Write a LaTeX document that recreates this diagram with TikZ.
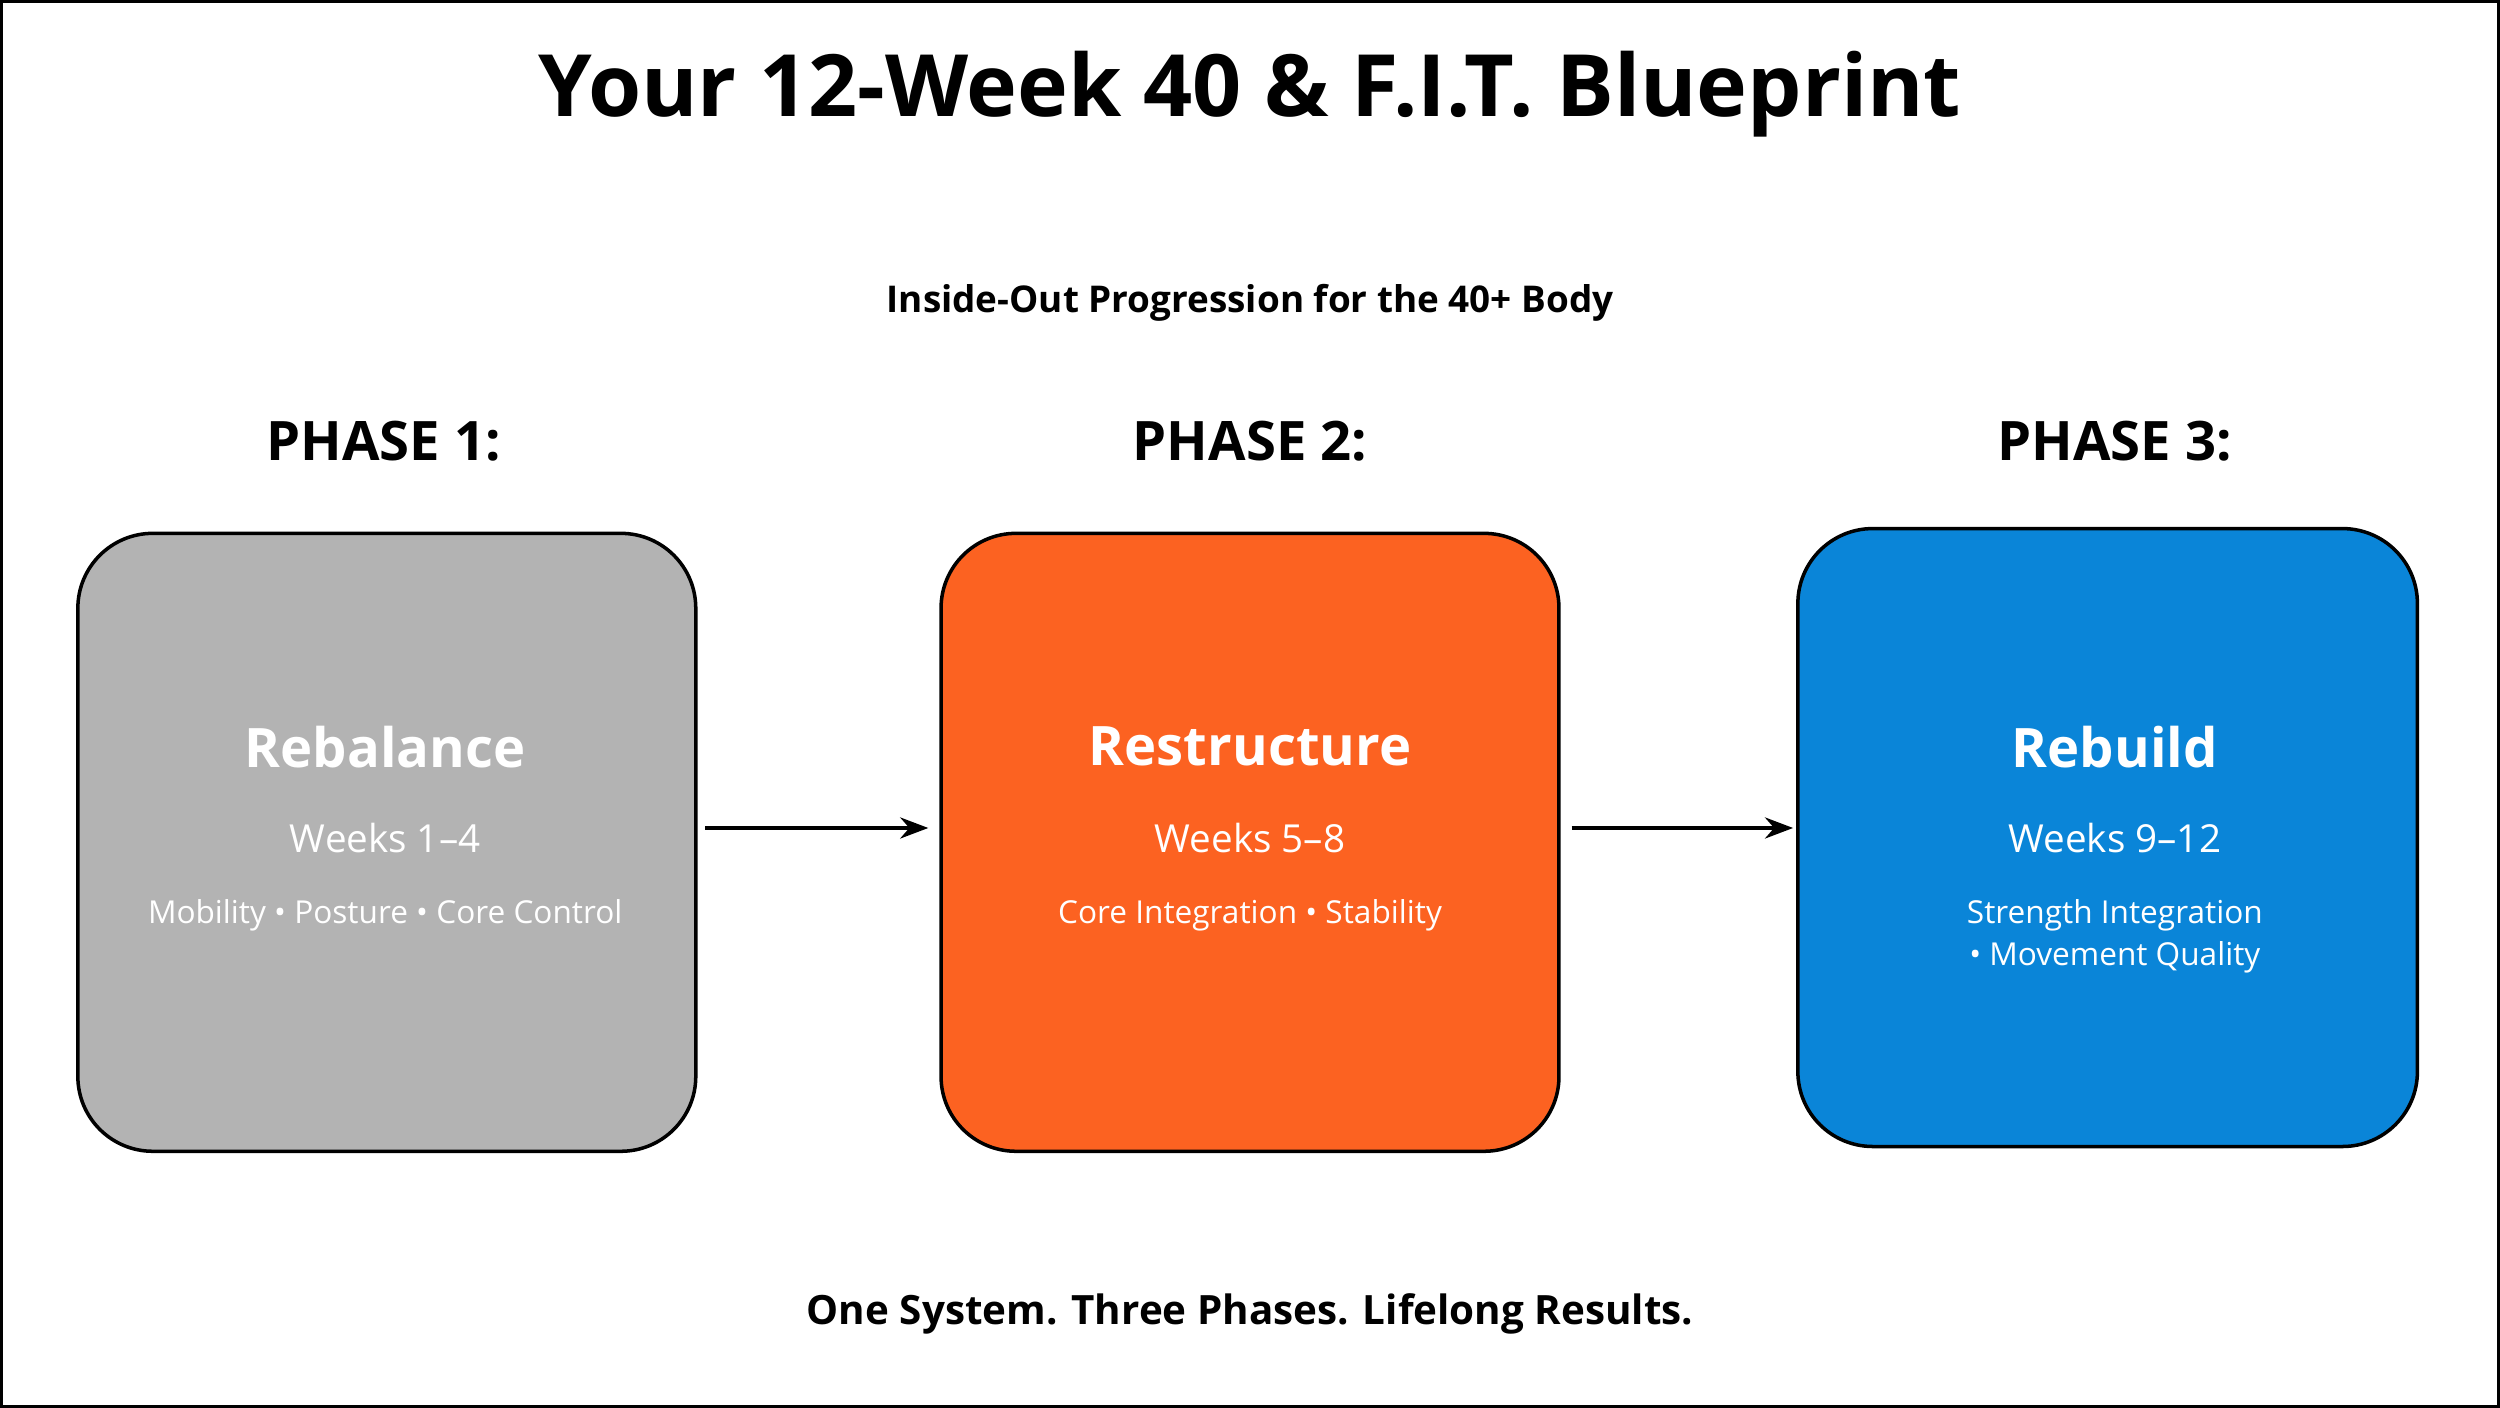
\documentclass[tikz,border=0pt]{standalone}
\usepackage{fontspec}
\setmainfont{Open Sans}
\usetikzlibrary{arrows.meta}
\definecolor{pgray}{HTML}{B3B3B3}
\definecolor{porange}{HTML}{FC6221}
\definecolor{pblue}{HTML}{0A85D8}
\begin{document}
\begin{tikzpicture}[x=0.015944cm,y=-0.015944cm,
  box/.style={draw=black,line width=1pt,rounded corners=0.75cm},
  ttl/.style={text=white,font=\fontsize{15.5}{18}\selectfont\bfseries},
  wk/.style={text=white,font=\fontsize{11}{13}\selectfont},
  det/.style={text=white,font=\fontsize{9}{12}\selectfont,align=center},
  ph/.style={font=\fontsize{15.5}{18}\selectfont\bfseries},
  arr/.style={-{Stealth[length=8pt,width=6pt]},line width=1.1pt}]
\draw[line width=0.8pt] (0,0) rectangle (1568,882);
\useasboundingbox (0,0) rectangle (1568,882);
\node (title) at (784,58) {\fontsize{24.5}{28}\selectfont\bfseries Your 12-Week 40 \& F.I.T. Blueprint};
\node (sub) at (784,189) {\fontsize{10.5}{13}\selectfont\bfseries Inside-Out Progression for the 40+ Body};
\node[ph] (p1) at (240,276) {PHASE 1:};
\node[ph] (p2) at (784,276) {PHASE 2:};
\node[ph] (p3) at (1327,276) {PHASE 3:};
\draw[box,fill=pgray] (48,334) rectangle (436,722);
\draw[box,fill=porange] (590,334) rectangle (978,722);
\draw[box,fill=pblue] (1128,331) rectangle (1517,719);
\coordinate (b1) at (442,519); \coordinate (b2) at (582,519);
\coordinate (b3) at (986,519); \coordinate (b4) at (1125,519);
\node[ttl] (t1) at (241,468) {Rebalance};
\node[wk] (w1) at (241,525) {Weeks 1–4};
\node[det] (d1) at (241,574) {Mobility • Posture • Core Control};
\node[ttl] (t2) at (784,468) {Restructure};
\node[wk] (w2) at (784,525) {Weeks 5–8};
\node[det] (d2) at (784,574) {Core Integration • Stability};
\node[ttl] (t3) at (1327,468) {Rebuild};
\node[wk] (w3) at (1327,525) {Weeks 9–12};
\node[det] (d3) at (1327,587) {Strength Integration\\• Movement Quality};
\draw[arr] (b1) -- (b2);
\draw[arr] (b3) -- (b4);
\node (foot) at (784,824) {\fontsize{11.5}{14}\selectfont\bfseries One System. Three Phases. Lifelong Results.};
\end{tikzpicture}
\end{document}
